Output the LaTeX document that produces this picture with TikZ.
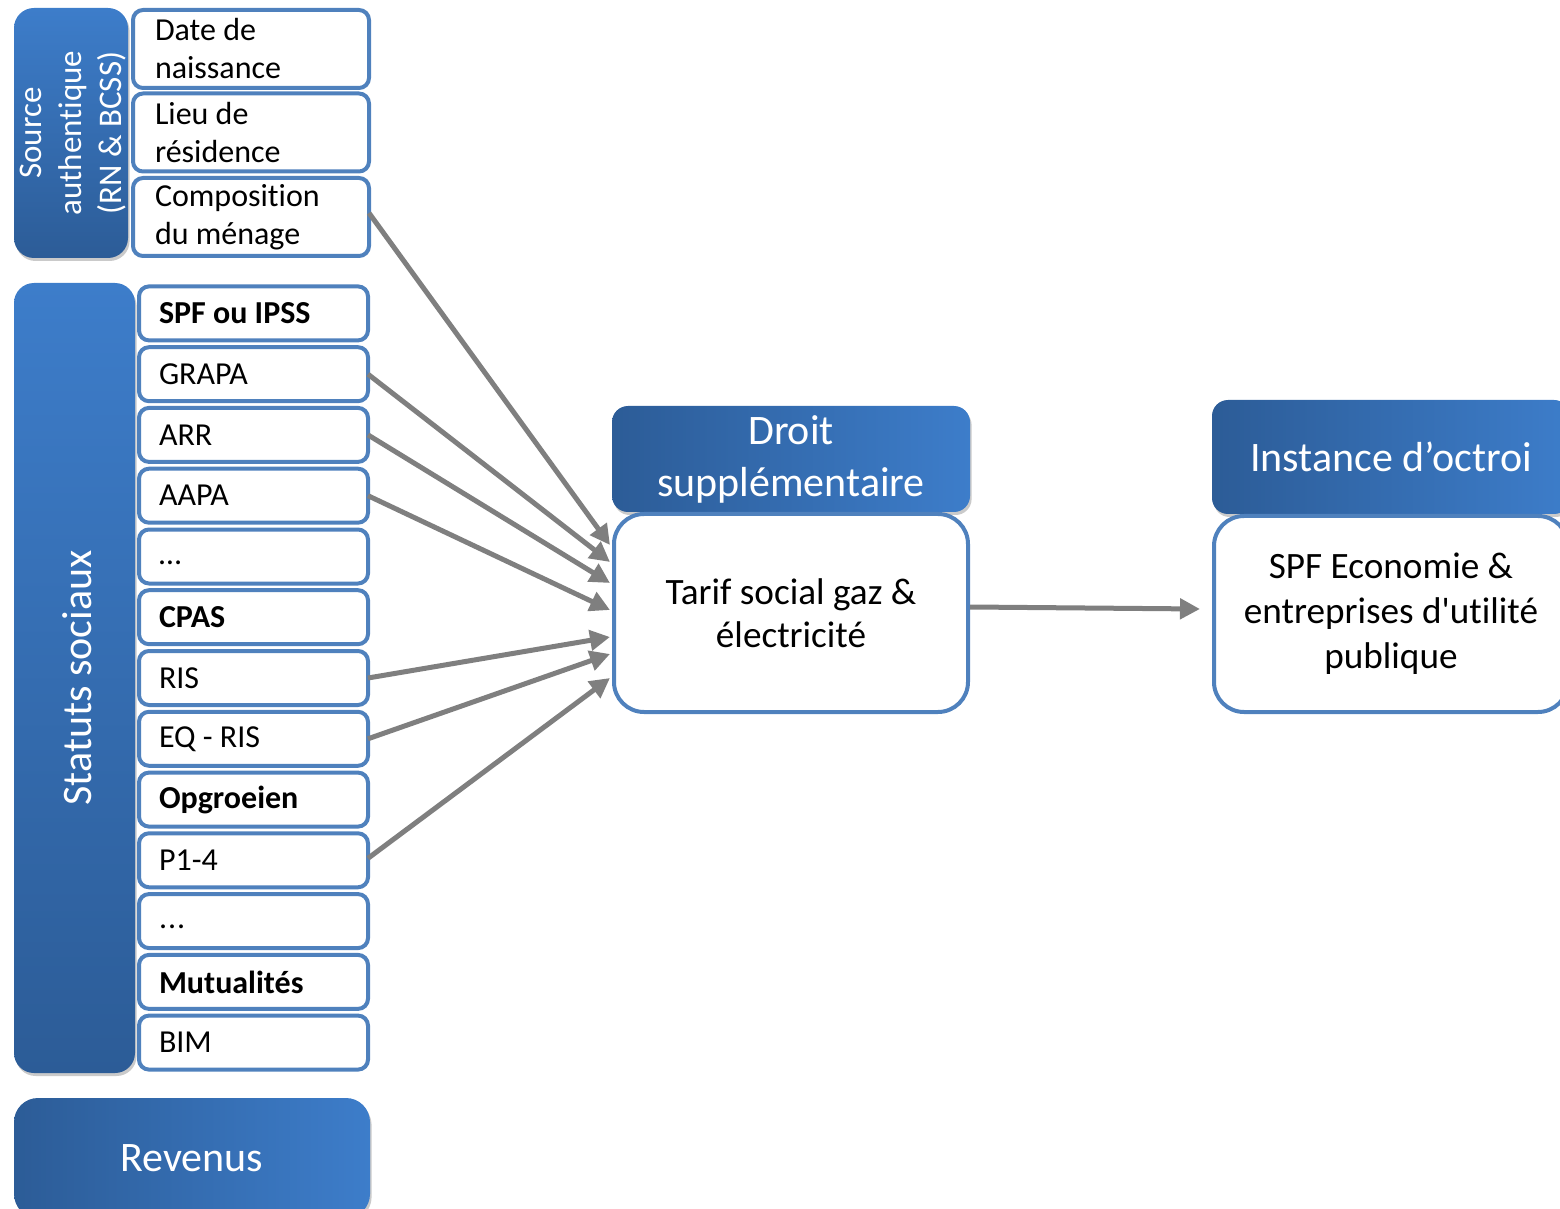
\documentclass[tikz,border=0pt]{standalone}
\usepackage{fontspec}
\setmainfont[Ligatures={NoCommon}]{Carlito}
\usetikzlibrary{arrows.meta,calc,shadows}
\definecolor{bluelt}{HTML}{3D7DCA}
\definecolor{bluedk}{HTML}{2C5C97}
\definecolor{itemborder}{HTML}{4F81BD}
\definecolor{arrowgray}{HTML}{7F7F7F}
\newcommand\lefttext[2]{\parbox{#1}{\raggedright #2}}
\begin{document}
\begin{tikzpicture}[x=0.5pt,y=-0.5pt,
  shadowed/.style={drop shadow={shadow xshift=0.8pt,shadow yshift=-1.5pt,opacity=0.35,fill=black!60}},
  vbar/.style={rectangle,rounded corners=10pt,top color=bluelt,bottom color=bluedk,draw=none,shadowed},
  hbar/.style={rectangle,rounded corners=8pt,left color=bluedk,right color=bluelt,draw=none,text=white,align=center,shadowed},
  vlabel/.style={rotate=90,text=white,align=center},
  itemA/.style={draw=itemborder,line width=2pt,fill=white,rounded corners=5pt,
    inner xsep=11pt,inner ysep=1pt,minimum height=39pt,
    font=\fontsize{16}{19}\selectfont},
  itemB/.style={draw=itemborder,line width=2pt,fill=white,rounded corners=5pt,
    inner xsep=10pt,inner ysep=1pt,minimum height=27pt,
    font=\fontsize{16}{19}\selectfont},
  bodybox/.style={draw=itemborder,line width=2pt,fill=white,rounded corners=15pt,align=center,inner sep=0pt},
  arr/.style={draw=arrowgray,line width=2.5pt,-{Triangle[length=10pt,width=10pt]}}
]
\useasboundingbox (0,0) rectangle (1560,1209);
\clip (0,0) rectangle (1560,1209);

% Source authentique
\node[vbar,minimum width=57pt,minimum height=125pt] (srcbar) at (71,133) {};
\node[vlabel,font=\fontsize{16.5}{20}\selectfont] (srclabel) at (73,133) {Source\\authentique\\(RN \& BCSS)};
\node[itemA] (date) at (251,49) {\lefttext{96pt}{Date de\\naissance}};
\node[itemA] (lieu) at (251,132.5) {\lefttext{96pt}{Lieu de\\résidence}};
\node[itemA] (comp) at (251,217) {\lefttext{96pt}{Composition\\du ménage}};

% Statuts sociaux
\node[vbar,minimum width=60.5pt,minimum height=395pt] (statbar) at (74.5,678) {};
\node[vlabel,font=\fontsize{21}{25}\selectfont] (statlabel) at (77,678) {Statuts sociaux};
\node[itemB] (spf) at (253.5,313.4) {\lefttext{94.5pt}{\textbf{SPF ou IPSS}}};
\node[itemB] (grapa) at (253.5,374.2) {\lefttext{94.5pt}{GRAPA}};
\node[itemB] (arr) at (253.5,434.9) {\lefttext{94.5pt}{ARR}};
\node[itemB] (aapa) at (253.5,495.7) {\lefttext{94.5pt}{AAPA}};
\node[itemB] (dotsa) at (253.5,556.5) {\lefttext{94.5pt}{\strut…}};
\node[itemB] (cpas) at (253.5,617.2) {\lefttext{94.5pt}{\textbf{CPAS}}};
\node[itemB] (ris) at (253.5,678.0) {\lefttext{94.5pt}{RIS}};
\node[itemB] (eqris) at (253.5,738.8) {\lefttext{94.5pt}{EQ - RIS}};
\node[itemB] (opg) at (253.5,799.6) {\lefttext{94.5pt}{\textbf{Opgroeien}}};
\node[itemB] (p14) at (253.5,860.3) {\lefttext{94.5pt}{P1-4}};
\node[itemB] (dotsb) at (253.5,921.1) {\lefttext{94.5pt}{\strut.\kern0.5pt.\kern0.5pt.}};
\node[itemB] (mut) at (253.5,981.9) {\lefttext{94.5pt}{\textbf{Mutualités}}};
\node[itemB] (bim) at (253.5,1042.6) {\lefttext{94.5pt}{BIM}};

% Revenus
\node[hbar,rounded corners=12pt,minimum width=178pt,minimum height=60pt,font=\fontsize{21}{25}\selectfont] (rev) at (192,1158) {Revenus};

% Droit supplementaire
\node[hbar,minimum width=179pt,minimum height=53pt,font=\fontsize{21}{26}\selectfont] (droit) at (791,459) {Droit\\supplémentaire};
\node[bodybox,minimum width=177pt,minimum height=99pt,font=\fontsize{18.6}{21.5}\selectfont] (tarif) at (791,613) {Tarif social gaz \&\\électricité};

% Instance d'octroi
\node[hbar,minimum width=179pt,minimum height=57pt,font=\fontsize{21}{26}\selectfont] (inst) at (1391,457) {Instance d’octroi};
\node[bodybox,minimum width=177pt,minimum height=98pt,font=\fontsize{18.6}{22.5}\selectfont] (spfeco) at (1391,614) {SPF Economie \&\\entreprises d\textquotesingle utilité\\publique};

% Arrows
\draw[arr] ($(comp.east)+(-2,-4)$) -- ($(tarif.west)+(-2,-68)$);
\draw[arr] ($(grapa.east)+(-2,0)$) -- ($(tarif.west)+(-2,-51)$);
\draw[arr] ($(arr.east)+(-2,0)$) -- ($(tarif.west)+(-2,-30)$);
\draw[arr] ($(aapa.east)+(-2,0)$) -- ($(tarif.west)+(-2,-3)$);
\draw[arr] ($(ris.east)+(-2,0)$) -- ($(tarif.west)+(-2,24)$);
\draw[arr] ($(eqris.east)+(-2,0)$) -- ($(tarif.west)+(-2,41)$);
\draw[arr] ($(p14.east)+(-2,-2)$) -- ($(tarif.west)+(-2,65)$);
\draw[arr] ($(tarif.east)+(0,-6)$) -- ($(spfeco.west)+(-12,-5)$);
\end{tikzpicture}
\end{document}
